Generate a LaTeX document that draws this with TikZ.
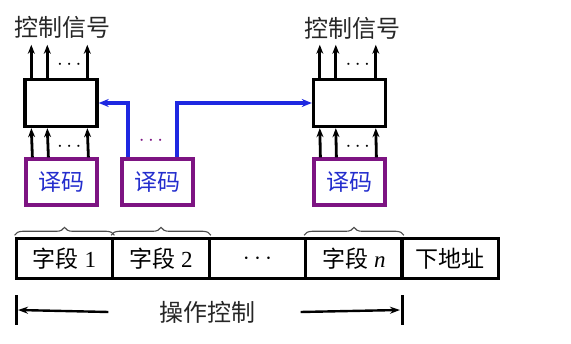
\documentclass[tikz,border=0pt]{standalone}
\usepackage{fontspec}
\setmainfont{Liberation Serif}
\newfontfamily\cjk{Noto Sans CJK SC}
\usetikzlibrary{decorations.pathreplacing,arrows.meta}
\definecolor{myblue}{RGB}{30,40,225}
\definecolor{txtblue}{RGB}{35,45,205}
\definecolor{mypurple}{RGB}{125,20,130}
\tikzset{
  ctlbox/.style={draw=black,line width=3.4pt,minimum width=72pt,minimum height=47pt,inner sep=0pt},
  decbox/.style={draw=mypurple,line width=3.2pt,minimum width=71pt,minimum height=46pt,inner sep=0pt,text=txtblue,font=\cjk\fontsize{23}{25}\selectfont},
  fieldbox/.style={draw=black,line width=3.4pt,minimum width=96.5pt,minimum height=40pt,inner sep=0pt,font=\fontsize{23}{25}\selectfont},
  sig/.style={line width=2.8pt,-{Stealth[length=9pt,width=7pt]}},
  bsig/.style={draw=myblue,line width=3.2pt,-{Stealth[length=10pt,width=8pt]}},
  lbl/.style={font=\cjk\fontsize{24}{26}\selectfont,text=black!85},
  brc/.style={draw=black!70,line width=1.1pt,decorate,decoration={brace,amplitude=8pt,raise=1.5pt}},
  dots/.style={font=\fontsize{22}{22}\selectfont},
}
\begin{document}
\begin{tikzpicture}[x=1pt,y=-1pt]
\useasboundingbox (0,0) rectangle (571,344);
% control boxes
\node[ctlbox] (b1) at (61,103) {};
\node[ctlbox] (b2) at (349.5,103) {};
% decoders
\node[decbox] (d1) at (61.5,182) {译码};
\node[decbox] (d2) at (157.5,182) {译码};
\node[decbox] (d3) at (349.5,182) {译码};
% labels
\node[lbl] (l1) at (63,27) {控制信号};
\node[lbl] (l2) at (352,28) {控制信号};
% arrows decoder -> box
\foreach \b/\d in {b1/d1,b2/d3}{
  \foreach \dx in {8,24,64}{
    \draw[sig] ([xshift=\dx pt]\d.north west) -- ([xshift=\dx pt]\b.south west);
    \draw[sig] ([xshift=\dx pt]\b.north west) -- ++(0,-33);
  }
  \node[dots] at ([xshift=46pt,yshift=-19pt]\b.south west) {$\cdots$};
  \node[dots] at ([xshift=46pt,yshift=13pt]\b.north west) {$\cdots$};
}
% blue connectors
\draw[bsig] ([xshift=-29.5pt]d2.north) |- (b1.east);
\draw[bsig] ([xshift=19.5pt]d2.north) |- (b2.west);
\node[dots,text=mypurple] (pd) at (151,141) {$\cdots$};
% fields
\node[fieldbox] (f1) at (64.5,258.5) {{\cjk 字段} 1};
\node[fieldbox] (f2) at (161,258.5) {{\cjk 字段} 2};
\node[fieldbox] (f3) at (257.5,258.5) {$\cdots$};
\node[fieldbox] (f4) at (354,258.5) {{\cjk 字段} \textit{n}};
\node[fieldbox] (f5) at (450,258.5) {\cjk 下地址};
% braces
\draw[brc] (f1.north west) -- (f1.north east);
\draw[brc] (f2.north west) -- (f2.north east);
\draw[brc] (f4.north west) -- (f4.north east);
% operation control
\node[lbl] (op) at (207,312) {操作控制};
\coordinate (lb) at (16.5,310);
\coordinate (rb) at (402,310);
\draw[line width=3pt] ([yshift=-15pt]lb) -- ([yshift=15pt]lb);
\draw[line width=3pt] ([yshift=-15pt]rb) -- ([yshift=15pt]rb);
\draw[line width=2.4pt,-{Stealth[length=10pt,width=7pt]}] ([xshift=-47pt]op.west) -- ([xshift=1.5pt]lb);
\draw[line width=2.4pt,-{Stealth[length=10pt,width=7pt]}] ([xshift=42pt]op.east) -- ([xshift=-2pt]rb);
\end{tikzpicture}
\end{document}
